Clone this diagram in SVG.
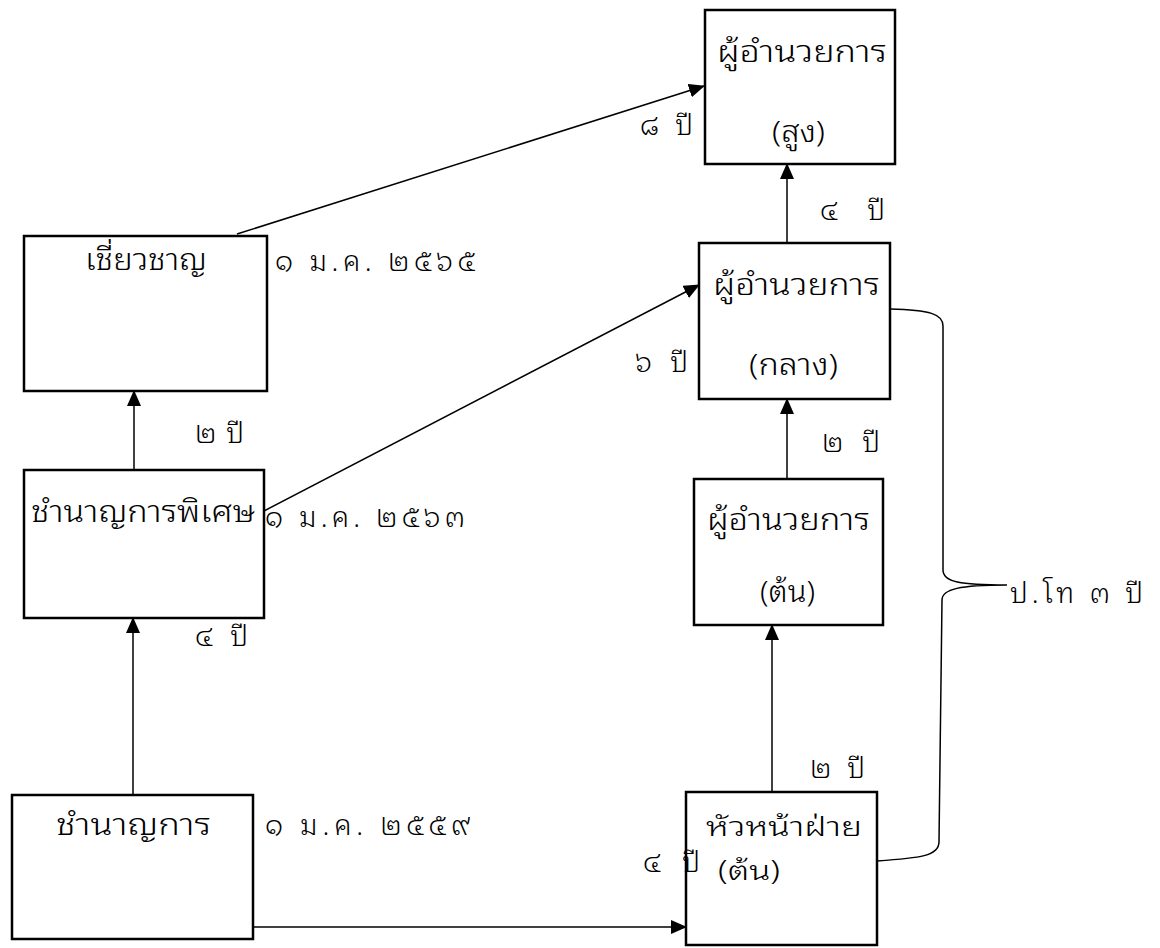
<svg xmlns="http://www.w3.org/2000/svg" width="1160" height="948" viewBox="0 0 1160 948">
<style>
.box{fill:#fff;stroke:#000;stroke-width:2.5}
.t{font-family:"Noto Sans Thai Looped","Noto Sans Thai","Noto Sans","DejaVu Sans",sans-serif;font-size:30px;font-weight:300;fill:#000}
.l{font-family:"Noto Sans Thai Looped","Noto Sans Thai","Noto Sans","DejaVu Sans",sans-serif;font-size:28px;font-weight:300;fill:#000}
.s{font-size:27px}
.c{fill:none;stroke:#000;stroke-width:1.5}
</style>
<defs>
<marker id="ah" markerWidth="16" markerHeight="14" refX="15" refY="7" orient="auto" markerUnits="userSpaceOnUse" viewBox="0 0 16 14">
<path d="M0,0 L16,7 L0,14 Z" fill="#000"/>
</marker>
</defs>
<g id="connectors">
<line class="c" x1="237" y1="234" x2="704" y2="86" marker-end="url(#ah)"/>
<line class="c" x1="262" y1="512" x2="699" y2="285" marker-end="url(#ah)"/>
<line class="c" x1="134" y1="470" x2="134" y2="391" marker-end="url(#ah)"/>
<line class="c" x1="133" y1="795" x2="133" y2="618" marker-end="url(#ah)"/>
<line class="c" x1="253" y1="927" x2="686" y2="927" marker-end="url(#ah)"/>
<line class="c" x1="772" y1="792" x2="772" y2="625" marker-end="url(#ah)"/>
<line class="c" x1="787" y1="479" x2="787" y2="399" marker-end="url(#ah)"/>
<line class="c" x1="787" y1="243" x2="787" y2="164" marker-end="url(#ah)"/>
<path class="c" d="M890,309 C930,310 943,314 943,326 L943,570 C943,582 960,585 1007,585 C960,585 942,589 942,600 L939,842 C939,856 920,858 877,861"/>
</g>
<g id="n-sung"><rect class="box" x="705" y="10" width="190" height="154"/><text class="t" x="717" y="62" textLength="170" lengthAdjust="spacingAndGlyphs">ผู้อำนวยการ</text><text class="t" x="772" y="142" textLength="53" lengthAdjust="spacingAndGlyphs">(สูง)</text></g>
<g id="n-klang"><rect class="box" x="699" y="243" width="191" height="156"/><text class="t" x="713" y="295" textLength="167" lengthAdjust="spacingAndGlyphs">ผู้อำนวยการ</text><text class="t" x="749" y="375" textLength="89" lengthAdjust="spacingAndGlyphs">(กลาง)</text></g>
<g id="n-ton"><rect class="box" x="694" y="479" width="189" height="146"/><text class="t" x="707" y="530" textLength="163" lengthAdjust="spacingAndGlyphs">ผู้อำนวยการ</text><text class="t" x="760" y="602" textLength="55" lengthAdjust="spacingAndGlyphs">(ต้น)</text></g>
<g id="n-hua"><rect class="box" x="686" y="792" width="191" height="153"/><text class="t s" x="706" y="836" textLength="156" lengthAdjust="spacingAndGlyphs">หัวหน้าฝ่าย</text><text class="t s" x="718" y="880" textLength="62" lengthAdjust="spacingAndGlyphs">(ต้น)</text></g>
<g id="n-chiaw"><rect class="box" x="24" y="236" width="243" height="155"/><text class="t" x="85" y="270" textLength="122" lengthAdjust="spacingAndGlyphs">เชี่ยวชาญ</text></g>
<g id="n-phiset"><rect class="box" x="24" y="470" width="240" height="148"/><text class="t" x="31" y="522" textLength="224" lengthAdjust="spacingAndGlyphs">ชำนาญการพิเศษ</text></g>
<g id="n-chamnan"><rect class="box" x="12" y="795" width="241" height="144"/><text class="t" x="56" y="835" textLength="155" lengthAdjust="spacingAndGlyphs">ชำนาญการ</text></g>
<g id="labels">
<text class="l" x="640" y="135" textLength="53">๘ ปี</text>
<text class="l" x="820" y="220" textLength="65">๔ ปี</text>
<text class="l" x="275" y="271" textLength="200">๑ ม.ค. ๒๕๖๕</text>
<text class="l" x="635" y="372" textLength="53">๖ ปี</text>
<text class="l" x="195" y="443" textLength="49">๒ ปี</text>
<text class="l" x="265" y="527" textLength="200">๑ ม.ค. ๒๕๖๓</text>
<text class="l" x="822" y="452" textLength="58">๒ ปี</text>
<text class="l" x="1010" y="603" textLength="133">ป.โท ๓ ปี</text>
<text class="l" x="195" y="646" textLength="53">๔ ปี</text>
<text class="l" x="810" y="778" textLength="55">๒ ปี</text>
<text class="l" x="265" y="835" textLength="205">๑ ม.ค. ๒๕๕๙</text>
<text class="l" x="643" y="872" textLength="57">๔ ปี</text>
</g>
</svg>
